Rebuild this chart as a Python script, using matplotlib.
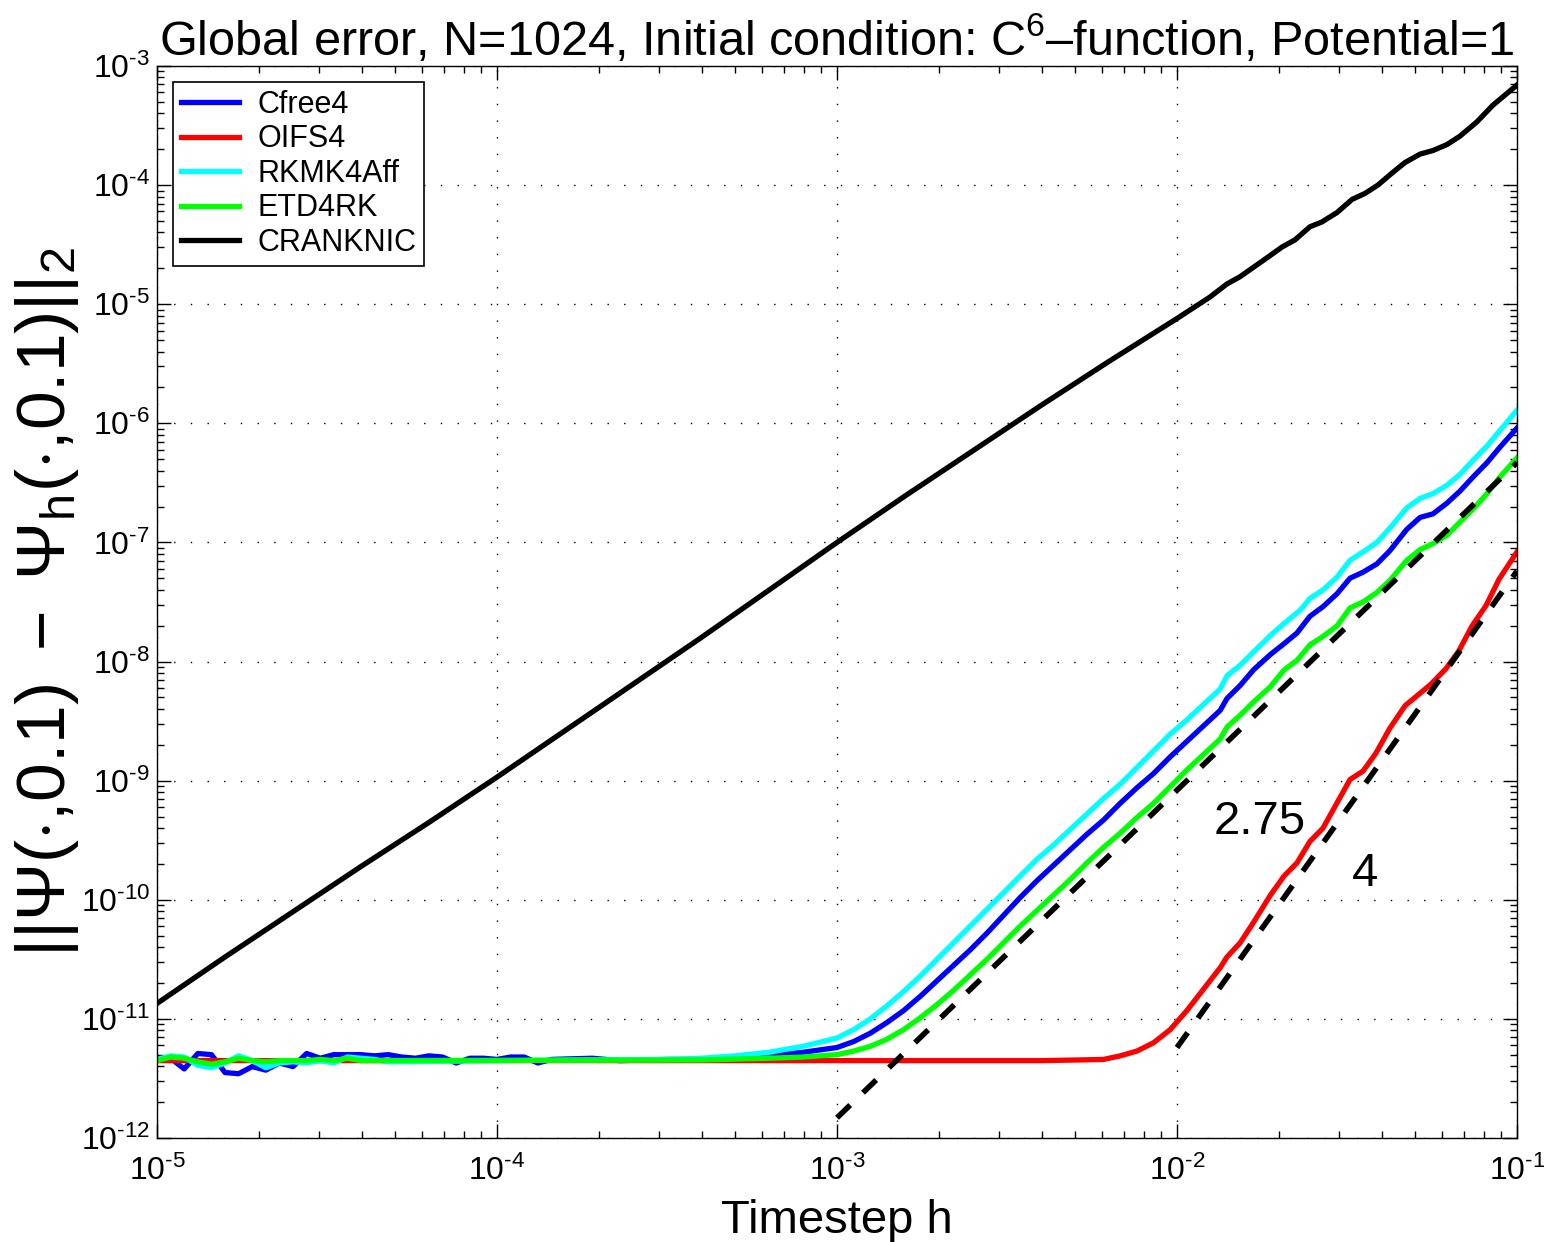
import numpy as np
import matplotlib
matplotlib.use("Agg")
import matplotlib.pyplot as plt
from matplotlib.ticker import LogLocator, NullFormatter, FuncFormatter

plt.rcParams['font.family'] = ['Liberation Sans', 'DejaVu Sans']
plt.rcParams['mathtext.fontset'] = 'custom'
plt.rcParams['mathtext.rm'] = 'Liberation Sans'
plt.rcParams['mathtext.it'] = 'Liberation Sans:italic'
plt.rcParams['mathtext.bf'] = 'Liberation Sans:bold'

# --- data (log10 of timestep h, log10 of global error) ---
# Cfree4 (blue)
cfree4_logh = [-5.00, -4.96, -4.92, -4.88, -4.84, -4.80, -4.76, -4.72, -4.68, -4.64,
               -4.60, -4.56, -4.52, -4.48, -4.44, -4.40, -4.36, -4.32, -4.28, -4.24,
               -4.20, -4.16, -4.12, -4.08, -4.04, -4.00, -3.96, -3.92, -3.88, -3.84,
               -3.72, -3.64, -3.50, -3.40, -3.30, -3.20, -3.10, -3.00, -2.951, -2.902, -2.853,
               -2.804, -2.755, -2.706, -2.657, -2.608, -2.559, -2.510, -2.461, -2.412, -2.363,
               -2.314, -2.265, -2.216, -2.167, -2.118, -2.069, -2.020, -1.971, -1.922, -1.873,
               -1.853, -1.814, -1.775, -1.725, -1.685, -1.647, -1.609, -1.571, -1.529, -1.491,
               -1.453, -1.412, -1.374, -1.324, -1.285, -1.247, -1.206, -1.168, -1.129, -1.088,
               -1.050, -1.000]
cfree4_logerr = [-11.33, -11.33, -11.42, -11.29, -11.30, -11.45, -11.46, -11.40, -11.43, -11.37,
                 -11.40, -11.29, -11.33, -11.30, -11.30, -11.30, -11.31, -11.30, -11.32, -11.33,
                 -11.31, -11.32, -11.37, -11.33, -11.33, -11.34, -11.32, -11.32, -11.37, -11.34,
                 -11.33, -11.35, -11.34, -11.34, -11.33, -11.31, -11.28, -11.24, -11.19, -11.12, -11.03,
                 -10.93, -10.81, -10.68, -10.55, -10.42, -10.28, -10.13, -9.98, -9.84, -9.71,
                 -9.58, -9.45, -9.33, -9.19, -9.06, -8.94, -8.80, -8.67, -8.54, -8.41,
                 -8.31, -8.20, -8.07, -7.94, -7.85, -7.76, -7.62, -7.54, -7.43, -7.30,
                 -7.25, -7.18, -7.07, -6.89, -6.79, -6.76, -6.67, -6.57, -6.45, -6.33,
                 -6.20, -6.04]

# OIFS4 (red)
oifs4_logh = [-5.00, -3.00, -2.40, -2.30, -2.216, -2.167, -2.118, -2.069, -2.020, -1.971,
              -1.922, -1.873, -1.853, -1.814, -1.775, -1.725, -1.685, -1.647, -1.609, -1.571,
              -1.532, -1.491, -1.453, -1.415, -1.374, -1.329, -1.291, -1.253, -1.209, -1.171,
              -1.132, -1.091, -1.053, -1.000]
oifs4_logerr = [-11.35, -11.35, -11.35, -11.345, -11.34, -11.31, -11.27, -11.20, -11.09, -10.93,
                -10.75, -10.57, -10.48, -10.36, -10.19, -9.96, -9.80, -9.69, -9.51, -9.40,
                -9.20, -8.99, -8.92, -8.77, -8.56, -8.37, -8.28, -8.19, -8.06, -7.91,
                -7.70, -7.53, -7.31, -7.08]

# RKMK4Aff (cyan)
rkmk_logh = [-5.00, -4.96, -4.92, -4.88, -4.84, -4.80, -4.76, -4.72, -4.68, -4.64,
             -4.60, -4.56, -4.52, -4.48, -4.44, -4.40, -4.36, -4.32, -3.80, -3.50, -3.40,
             -3.30, -3.20, -3.10, -3.00, -2.951, -2.902, -2.853, -2.804, -2.755, -2.706, -2.657,
             -2.608, -2.559, -2.510, -2.461, -2.412, -2.363, -2.314, -2.265, -2.216, -2.167,
             -2.118, -2.069, -2.020, -1.971, -1.922, -1.873, -1.853, -1.814, -1.775, -1.725,
             -1.685, -1.638, -1.609, -1.571, -1.529, -1.491, -1.453, -1.412, -1.374, -1.324,
             -1.285, -1.247, -1.206, -1.168, -1.129, -1.088, -1.050, -1.000]
rkmk_logerr = [-11.34, -11.31, -11.32, -11.39, -11.41, -11.37, -11.31, -11.35, -11.41, -11.37,
               -11.36, -11.37, -11.35, -11.37, -11.32, -11.33, -11.34, -11.36, -11.345, -11.34, -11.33,
               -11.31, -11.28, -11.23, -11.16, -11.09, -11.00, -10.89, -10.77, -10.64, -10.50, -10.36,
               -10.22, -10.08, -9.94, -9.80, -9.66, -9.54, -9.41, -9.28, -9.15, -9.03,
               -8.89, -8.75, -8.61, -8.49, -8.36, -8.23, -8.12, -8.03, -7.92, -7.78,
               -7.68, -7.57, -7.47, -7.40, -7.29, -7.15, -7.08, -7.00, -6.88, -6.71,
               -6.63, -6.59, -6.52, -6.43, -6.31, -6.19, -6.06, -5.89]

# ETD4RK (green)
etd_logh = [-5.00, -4.96, -4.92, -4.88, -4.84, -4.80, -4.76, -4.72, -4.68, -4.64,
            -4.60, -4.56, -4.52, -4.48, -4.44, -4.40, -3.60, -3.40, -3.20, -3.10,
            -3.00, -2.951, -2.902, -2.853, -2.804, -2.755, -2.706, -2.657, -2.608, -2.559,
            -2.510, -2.461, -2.412, -2.363, -2.314, -2.265, -2.216, -2.167, -2.118, -2.069,
            -2.020, -1.971, -1.922, -1.873, -1.853, -1.814, -1.775, -1.725, -1.685, -1.647,
            -1.609, -1.571, -1.529, -1.491, -1.453, -1.412, -1.374, -1.324, -1.285, -1.247,
            -1.206, -1.168, -1.129, -1.088, -1.050, -1.000]
etd_logerr = [-11.35, -11.32, -11.33, -11.36, -11.38, -11.36, -11.33, -11.35, -11.36, -11.35,
              -11.35, -11.35, -11.34, -11.35, -11.33, -11.35, -11.346, -11.345, -11.33, -11.32,
              -11.30, -11.27, -11.23, -11.17, -11.09, -10.99, -10.88, -10.76, -10.63, -10.50,
              -10.36, -10.22, -10.09, -9.96, -9.83, -9.69, -9.56, -9.44, -9.31, -9.19,
              -9.05, -8.91, -8.78, -8.65, -8.55, -8.45, -8.34, -8.21, -8.07, -7.99,
              -7.86, -7.79, -7.70, -7.55, -7.50, -7.42, -7.32, -7.15, -7.06, -7.01,
              -6.94, -6.83, -6.72, -6.59, -6.45, -6.29]

# CRANKNIC (black)
crank_logh = [-5.00, -4.80, -4.60, -4.40, -4.20, -4.00, -3.80, -3.60, -3.40, -3.20,
              -3.00, -2.80, -2.60, -2.40, -2.20, -2.00, -1.903, -1.853, -1.815, -1.735,
              -1.691, -1.653, -1.609, -1.574, -1.529, -1.485, -1.447, -1.409, -1.368, -1.329,
              -1.285, -1.247, -1.206, -1.168, -1.118, -1.071, -1.000]
crank_logerr = [-10.87, -10.48, -10.10, -9.72, -9.35, -8.97, -8.58, -8.19, -7.80, -7.40,
                -7.00, -6.61, -6.23, -5.85, -5.48, -5.12, -4.94, -4.83, -4.77, -4.61,
                -4.52, -4.46, -4.35, -4.31, -4.23, -4.12, -4.07, -4.00, -3.90, -3.81,
                -3.74, -3.71, -3.66, -3.59, -3.47, -3.33, -3.16]

# reference slope lines (slope 2.75 and slope 4)
ref275_h = [1e-3, 1e-1]
ref275_err = [1.48e-12, 4.68e-7]
ref4_h = [1e-2, 1e-1]
ref4_err = [5.75e-12, 5.75e-8]

series = [
    ("Cfree4", cfree4_logh, cfree4_logerr, (0, 0, 1)),
    ("OIFS4", oifs4_logh, oifs4_logerr, (1, 0, 0)),
    ("RKMK4Aff", rkmk_logh, rkmk_logerr, (0, 1, 1)),
    ("ETD4RK", etd_logh, etd_logerr, (0, 1, 0)),
    ("CRANKNIC", crank_logh, crank_logerr, (0, 0, 0)),
]

fig = plt.figure(figsize=(15.44, 12.42), dpi=100)
ax = fig.add_axes([0.1017, 0.0837, 0.8808, 0.8632])

for name, lh, le, col in series:
    ax.loglog(10.0 ** np.array(lh), 10.0 ** np.array(le), color=col, lw=3.8,
              label=name, solid_joinstyle='round')

for rh, re in [(ref275_h, ref275_err), (ref4_h, ref4_err)]:
    ax.loglog(rh, re, color='k', lw=4.0, linestyle=(0, (3.3, 3.2)),
              dash_capstyle='butt')

ax.text(10 ** -1.756, 10 ** -9.35, "2.75", fontsize=34, ha='center', va='center')
ax.text(10 ** -1.447, 10 ** -9.78, "4", fontsize=34, ha='center', va='center')

ax.set_xlim(1e-5, 1e-1)
ax.set_ylim(1e-12, 1e-3)
ax.xaxis.set_major_locator(LogLocator(base=10, numticks=20))
ax.yaxis.set_major_locator(LogLocator(base=10, numticks=20))
ax.xaxis.set_minor_locator(LogLocator(base=10, subs=np.arange(2, 10), numticks=20))
ax.yaxis.set_minor_locator(LogLocator(base=10, subs=np.arange(2, 10), numticks=20))
ax.xaxis.set_minor_formatter(NullFormatter())
ax.yaxis.set_minor_formatter(NullFormatter())


def decade_label(v, pos):
    # hyphen-style exponent like the original figure
    return r"$\mathdefault{10^{\text{-}%d}}$" % int(round(-np.log10(v)))


ax.xaxis.set_major_formatter(FuncFormatter(decade_label))
ax.yaxis.set_major_formatter(FuncFormatter(decade_label))

ax.tick_params(which='both', direction='in', top=True, right=True, width=1.0)
ax.tick_params(which='major', length=10, labelsize=23, pad=5)
ax.tick_params(which='minor', length=5)
ax.tick_params(axis='x', which='major', pad=13)
for s in ax.spines.values():
    s.set_linewidth(1.0)

ax.grid(True, which='major', linestyle=(0, (1, 11)), linewidth=1.0, color='k')
ax.grid(False, which='minor')

ax.set_title("Global error, N=1024, Initial condition: C$^6$–function, Potential=1",
             fontsize=35, pad=8)
ax.set_xlabel("Timestep h", fontsize=34, labelpad=8)
ax.set_ylabel(r"$||\Psi(\cdot{,}0.1)\ -\ \Psi_{\mathrm{h}}(\cdot{,}0.1)||_2$",
              fontsize=50, labelpad=0)

leg = ax.legend(loc='upper left', bbox_to_anchor=(0.0118, 0.985), borderaxespad=0,
                fontsize=22, handlelength=1.9, handletextpad=0.6, labelspacing=0.15,
                borderpad=0.25, fancybox=False, framealpha=1, edgecolor='k')
leg.get_frame().set_linewidth(1.2)

fig.savefig("out.png", dpi=100)
